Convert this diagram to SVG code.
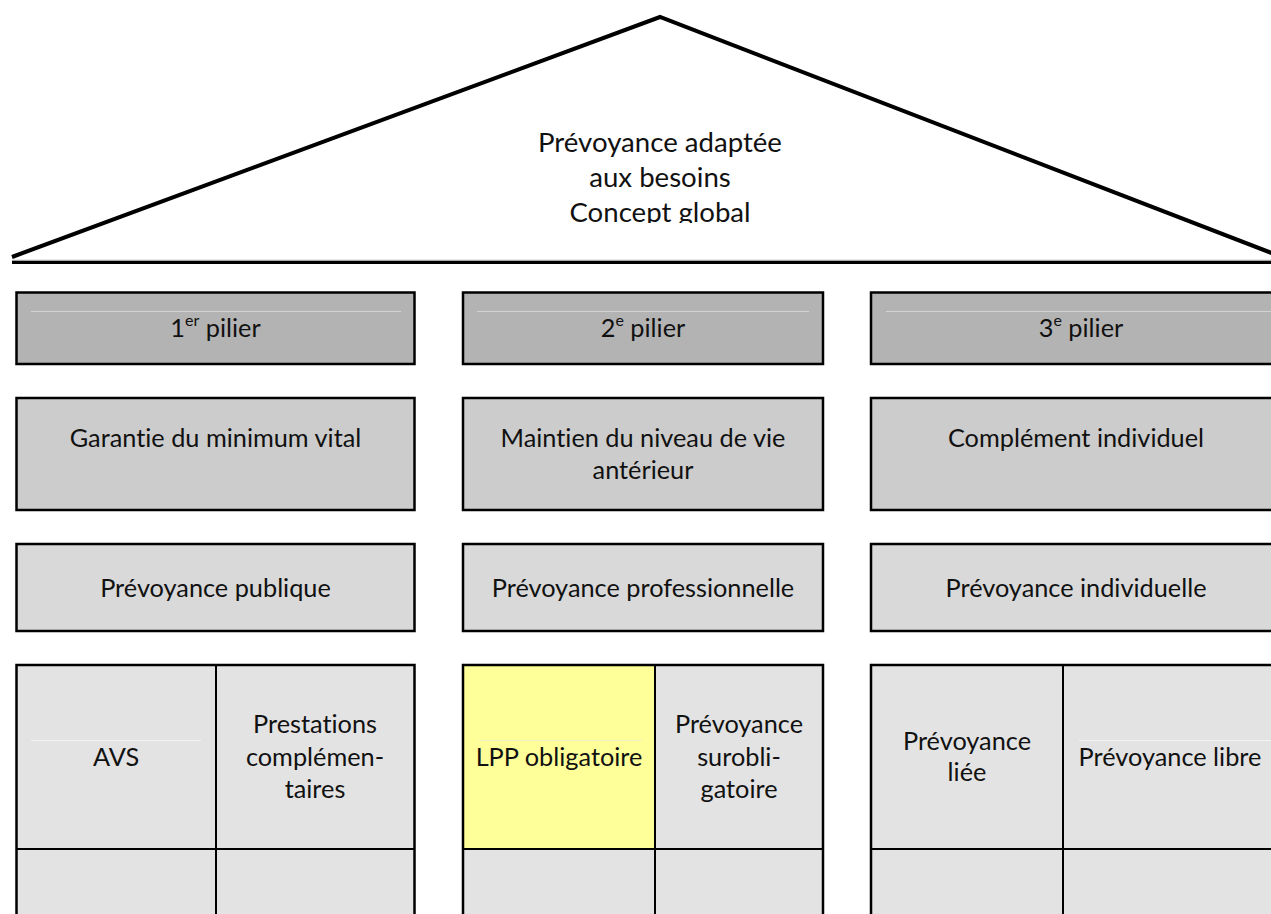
<svg xmlns="http://www.w3.org/2000/svg" width="1271" height="914" viewBox="0 0 1271 914">
<defs>
<style>
.t{font-family:Lato,"Liberation Sans",sans-serif;font-size:25.3px;fill:#111;text-anchor:middle;font-variant-ligatures:none}
.tr{font-family:Lato,"Liberation Sans",sans-serif;font-size:27.6px;fill:#111;text-anchor:middle;font-variant-ligatures:none}
.sup{font-size:16px}
.b{stroke:#000;stroke-width:2.5}
.r1{fill:#b3b3b3}
.r2{fill:#cccccc}
.r3{fill:#d9d9d9}
.r4{fill:#e3e3e3}
.y{fill:#ffff99}
.hl{stroke:#d2d2d2;stroke-width:1}
.hl2{stroke:#f2f2f2;stroke-width:1}
.dv{stroke:#000;stroke-width:2}
</style>
<clipPath id="roofclip"><rect x="0" y="0" width="1271" height="223"/></clipPath>
</defs>
<g id="roof">
<polyline points="12,257 660,17 1282,257" fill="none" stroke="#000" stroke-width="4" stroke-linejoin="miter"/>
<line x1="12" y1="260.3" x2="1271" y2="260.3" stroke="#a8a8a8" stroke-width="1.2"/>
<line x1="12" y1="262.5" x2="1271" y2="262.5" stroke="#000" stroke-width="3.2"/>
<g clip-path="url(#roofclip)">
<text class="tr" x="660" y="152">Prévoyance adaptée</text>
<text class="tr" x="660" y="187">aux besoins</text>
<text class="tr" x="660" y="222">Concept global</text>
</g>
</g>
<g id="pilier1">
<rect class="r1 b" x="16.5" y="292.5" width="398" height="71.5"/>
<line class="hl" x1="31" y1="311.5" x2="401" y2="311.5"/>
<text class="t" x="215.5" y="337">1<tspan class="sup" dy="-11">er</tspan><tspan dy="11"> pilier</tspan></text>
</g>
<g id="pilier2">
<rect class="r1 b" x="463" y="292.5" width="360" height="71.5"/>
<line class="hl" x1="477" y1="311.5" x2="809" y2="311.5"/>
<text class="t" x="643" y="337">2<tspan class="sup" dy="-11">e</tspan><tspan dy="11"> pilier</tspan></text>
</g>
<g id="pilier3">
<rect class="r1 b" x="871" y="292.5" width="420" height="71.5"/>
<line class="hl" x1="886" y1="311.5" x2="1271" y2="311.5"/>
<text class="t" x="1081" y="337">3<tspan class="sup" dy="-11">e</tspan><tspan dy="11"> pilier</tspan></text>
</g>
<g id="garantie">
<rect class="r2 b" x="16.5" y="398" width="398" height="112"/>
<text class="t" x="215.5" y="447">Garantie du minimum vital</text>
</g>
<g id="maintien">
<rect class="r2 b" x="463" y="398" width="360" height="112"/>
<text class="t" x="643" y="447">Maintien du niveau de vie</text>
<text class="t" x="643" y="479">antérieur</text>
</g>
<g id="complement">
<rect class="r2 b" x="871" y="398" width="420" height="112"/>
<text class="t" x="1076" y="447">Complément individuel</text>
</g>
<g id="publique">
<rect class="r3 b" x="16.5" y="544" width="398" height="87"/>
<text class="t" x="215.5" y="597">Prévoyance publique</text>
</g>
<g id="professionnelle">
<rect class="r3 b" x="463" y="544" width="360" height="87"/>
<text class="t" x="643" y="597">Prévoyance professionnelle</text>
</g>
<g id="individuelle">
<rect class="r3 b" x="871" y="544" width="420" height="87"/>
<text class="t" x="1076" y="597">Prévoyance individuelle</text>
</g>
<g id="avs">
<rect class="r4" x="16.5" y="665" width="199.5" height="184"/>
<line class="hl2" x1="31" y1="740.5" x2="201" y2="740.5"/>
<text class="t" x="116" y="766">AVS</text>
</g>
<g id="prestations">
<rect class="r4" x="216" y="665" width="198.5" height="184"/>
<text class="t" x="315" y="733">Prestations</text>
<text class="t" x="315" y="766">complémen-</text>
<text class="t" x="315" y="798">taires</text>
</g>
<g id="lpp">
<rect class="y" x="463" y="665" width="192" height="184"/>
<line stroke="#f0f0c0" stroke-width="1" x1="479" y1="740.5" x2="642" y2="740.5"/>
<text class="t" x="559" y="766">LPP obligatoire</text>
</g>
<g id="surobligatoire">
<rect class="r4" x="655" y="665" width="168" height="184"/>
<text class="t" x="739" y="733">Prévoyance</text>
<text class="t" x="739" y="766">surobli-</text>
<text class="t" x="739" y="798">gatoire</text>
</g>
<g id="liee">
<rect class="r4" x="871" y="665" width="192" height="184"/>
<text class="t" x="967" y="750">Prévoyance</text>
<text class="t" x="967" y="781">liée</text>
</g>
<g id="libre">
<rect class="r4" x="1063" y="665" width="228" height="184"/>
<line class="hl2" x1="1079" y1="740.5" x2="1271" y2="740.5"/>
<text class="t" x="1170" y="766">Prévoyance libre</text>
</g>
<g id="bottom-cells">
<rect class="r4" x="16.5" y="849" width="398" height="80"/>
<rect class="r4" x="463" y="849" width="360" height="80"/>
<rect class="r4" x="871" y="849" width="420" height="80"/>
</g>
<g id="connectors">
<rect fill="none" class="b" x="16.5" y="665" width="398" height="280"/>
<rect fill="none" class="b" x="463" y="665" width="360" height="280"/>
<rect fill="none" class="b" x="871" y="665" width="420" height="280"/>
<line class="dv" x1="16.5" y1="849" x2="414.5" y2="849"/>
<line class="dv" x1="463" y1="849" x2="823" y2="849"/>
<line class="dv" x1="871" y1="849" x2="1271" y2="849"/>
<line class="dv" x1="216" y1="665" x2="216" y2="914"/>
<line class="dv" x1="655" y1="665" x2="655" y2="914"/>
<line class="dv" x1="1063" y1="665" x2="1063" y2="914"/>
</g>
</svg>
